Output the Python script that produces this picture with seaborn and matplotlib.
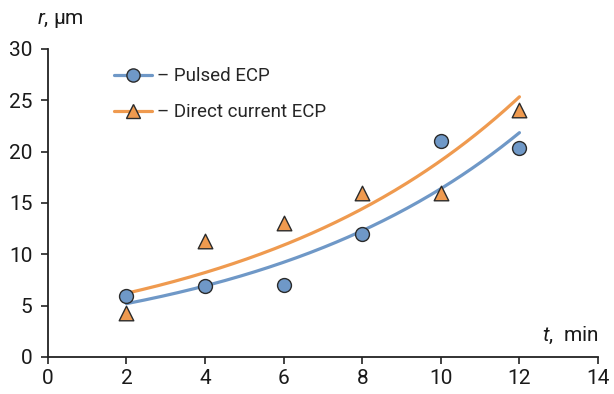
import numpy as np
import pandas as pd
import matplotlib
matplotlib.use("Agg")
import matplotlib.pyplot as plt
from matplotlib.lines import Line2D
import seaborn as sns

# Measured radius vs. processing time
t_min = [2, 4, 6, 8, 10, 12]
r_pulsed = [5.9, 6.9, 7.0, 12.0, 21.0, 20.3]
r_direct = [4.3, 11.3, 13.0, 16.0, 16.0, 24.0]
series_names = ["Pulsed ECP", "Direct current ECP"]
x_ticks = [0, 2, 4, 6, 8, 10, 12, 14]
y_ticks = [0, 5, 10, 15, 20, 25, 30]

BLUE = "#6f98c7"
ORANGE = "#ef9a4f"
EDGE = "#2b2b2b"
TEXT = "#1a1a1a"

sns.set_theme(style="white")
plt.rcParams["font.family"] = ["Roboto", "DejaVu Sans"]
plt.rcParams["mathtext.fontset"] = "custom"
plt.rcParams["mathtext.it"] = "Roboto:italic"
plt.rcParams["mathtext.rm"] = "Roboto"

fig = plt.figure(figsize=(6.14, 3.94), dpi=100)
ax = fig.add_axes([0.078, 0.094, 0.896, 0.782])


def exp_trend(x, y):
    # least-squares exponential trend: y = a * exp(b x)
    b, ln_a = np.polyfit(x, np.log(y), 1)
    xs = np.linspace(min(x), max(x), 200)
    return pd.DataFrame({"t": xs, "r": np.exp(ln_a) * np.exp(b * xs)})


trend_p = exp_trend(np.array(t_min, float), np.array(r_pulsed, float))
trend_d = exp_trend(np.array(t_min, float), np.array(r_direct, float))

sns.lineplot(data=trend_p, x="t", y="r", ax=ax, color=BLUE, lw=2.3, zorder=2)
sns.lineplot(data=trend_d, x="t", y="r", ax=ax, color=ORANGE, lw=2.3, zorder=2)

pts = pd.DataFrame({"t": t_min, "pulsed": r_pulsed, "direct": r_direct})
sns.scatterplot(data=pts, x="t", y="pulsed", ax=ax, marker="o", s=100,
                color=BLUE, edgecolor=EDGE, linewidth=1.0, zorder=3)
sns.scatterplot(data=pts, x="t", y="direct", ax=ax, marker="^", s=110,
                color=ORANGE, edgecolor=EDGE, linewidth=1.0, zorder=3)

ax.set_xlim(0, 14)
ax.set_ylim(0, 30)
ax.set_xticks(x_ticks)
ax.set_yticks(y_ticks)
ax.set_xlabel("")
ax.set_ylabel("")
for side in ("top", "right"):
    ax.spines[side].set_visible(False)
for side in ("left", "bottom"):
    ax.spines[side].set_color("#222222")
    ax.spines[side].set_linewidth(1.3)
ax.tick_params(axis="both", which="major", length=5, width=1.2, color="#222222",
               labelsize=15, labelcolor=TEXT, direction="out", bottom=True, left=True)
ax.tick_params(axis="x", pad=4)
ax.tick_params(axis="y", pad=6)

# axis titles
ax.text(-0.02, 1.06, "$\\it{r}$, μm", transform=ax.transAxes, fontsize=15,
        color=TEXT, ha="left", va="bottom")
ax.text(1.0, 0.035, "$\\it{t}$,  min", transform=ax.transAxes, fontsize=15,
        color=TEXT, ha="right", va="bottom")

handles = [
    Line2D([0], [0], color=BLUE, lw=2.3, marker="o", markersize=9.5,
           markerfacecolor=BLUE, markeredgecolor=EDGE, markeredgewidth=1.0),
    Line2D([0], [0], color=ORANGE, lw=2.3, marker="^", markersize=10,
           markerfacecolor=ORANGE, markeredgecolor=EDGE, markeredgewidth=1.0),
]
labels = ["– " + n for n in series_names]
ax.legend(handles, labels, loc="upper left", bbox_to_anchor=(0.09, 0.995),
          frameon=False, fontsize=13.5, handlelength=2.0, handletextpad=0.3,
          labelspacing=0.95)

fig.savefig("out.png", dpi=100)
